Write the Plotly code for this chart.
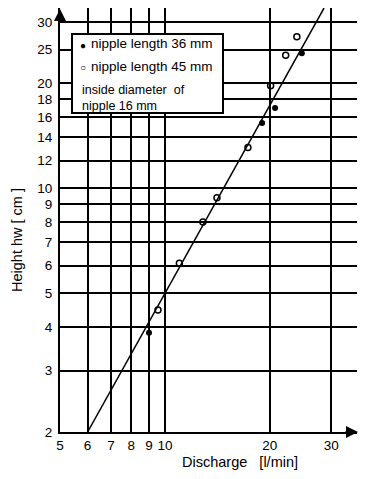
import numpy as np
import plotly.graph_objects as go

# Data
q36 = [9.0, 19.0, 20.7, 24.7]
h36 = [3.85, 15.4, 17.0, 24.4]
q45 = [9.55, 11.0, 12.85, 14.1, 17.3, 20.1, 22.2, 23.9]
h45 = [4.48, 6.1, 8.0, 9.4, 13.1, 19.7, 24.1, 27.2]
fit_q = [6.0, 28.6]
fit_h = [2.0, 32.9]
x_ticks = [5, 6, 7, 8, 9, 10, 20, 30]
y_ticks = [2, 3, 4, 5, 6, 7, 8, 9, 10, 12, 14, 16, 18, 20, 25, 30]

FONT = "Liberation Sans, Arial, Helvetica, sans-serif"

# page offset from default body margin
OFF = 8
W, H = 367 - OFF, 479 - OFF
L, T = 60 - OFF, 8 - OFF
pw, ph = 297, 424
R = W - L - pw
B = H - T - ph
dec = 348.6
x0 = np.log10(5)
y0 = np.log10(2)

fig = go.Figure()
fig.add_trace(go.Scatter(x=fit_q, y=fit_h, mode="lines",
                         line=dict(color="black", width=1.5), showlegend=False))
fig.add_trace(go.Scatter(x=q36, y=h36, mode="markers", name="nipple length 36 mm",
                         marker=dict(symbol="circle", size=6, color="black"),
                         showlegend=False, cliponaxis=False))
fig.add_trace(go.Scatter(x=q45, y=h45, mode="markers", name="nipple length 45 mm",
                         marker=dict(symbol="circle-open", size=6, color="black",
                                     line=dict(width=1.5)),
                         showlegend=False, cliponaxis=False))

fig.update_layout(
    width=W, height=H,
    margin=dict(l=L, r=R, t=T, b=B, pad=0),
    paper_bgcolor="white", plot_bgcolor="white",
    font=dict(family=FONT, color="black", size=13.5),
    xaxis=dict(type="log", range=[x0, x0 + pw / dec],
               tickvals=x_ticks, ticktext=[str(v) for v in x_ticks],
               showgrid=True, gridcolor="black", gridwidth=1.5,
               showline=True, linecolor="black", linewidth=2,
               zeroline=False, ticks="", tickfont=dict(size=13.5)),
    yaxis=dict(type="log", range=[y0, y0 + ph / dec],
               tickvals=y_ticks, ticktext=[str(v) for v in y_ticks],
               showgrid=True, gridcolor="black", gridwidth=1.5,
               showline=True, linecolor="black", linewidth=2,
               zeroline=False, ticks="", tickfont=dict(size=13.5),
               ticklabelstandoff=3),
    showlegend=False,
)

# page pixel -> paper coords
def px(xp):
    return (xp - OFF - L) / pw

def py(yp):
    return (T + ph - (yp - OFF)) / ph

# axis arrows
fig.add_annotation(xref="paper", yref="paper", x=0, y=py(9), ax=0, ay=12,
                   text="", showarrow=True, arrowhead=2, arrowsize=1.2,
                   arrowwidth=2, arrowcolor="black")
fig.add_annotation(xref="paper", yref="paper", x=px(358), y=0, ax=-14, ay=0,
                   text="", showarrow=True, arrowhead=2, arrowsize=1.2,
                   arrowwidth=2, arrowcolor="black")

# legend box
fig.add_shape(type="rect", xref="paper", yref="paper",
              x0=px(72), x1=px(223), y0=py(113), y1=py(34),
              line=dict(color="black", width=2), fillcolor="white", layer="above")
fig.add_annotation(xref="paper", yref="paper", x=px(83), y=py(45),
                   text="●", showarrow=False, xanchor="center", yanchor="middle",
                   font=dict(size=10))
fig.add_annotation(xref="paper", yref="paper", x=px(83), y=py(67),
                   text="○", showarrow=False, xanchor="center", yanchor="middle",
                   font=dict(size=10))
fig.add_annotation(xref="paper", yref="paper", x=px(89), y=py(44),
                   text="nipple length 36 mm", showarrow=False, xanchor="left",
                   yanchor="middle", font=dict(size=13.5))
fig.add_annotation(xref="paper", yref="paper", x=px(89), y=py(66),
                   text="nipple length 45 mm", showarrow=False, xanchor="left",
                   yanchor="middle", font=dict(size=13.5))
fig.add_annotation(xref="paper", yref="paper", x=px(80), y=py(98.5),
                   text="inside diameter  of<br>nipple 16 mm", showarrow=False,
                   xanchor="left", yanchor="middle", align="left",
                   font=dict(size=12.5))

# axis titles
fig.add_annotation(xref="paper", yref="paper", x=px(240), y=py(462),
                   text="Discharge   [l/min]", showarrow=False,
                   xanchor="center", yanchor="middle", font=dict(size=14.5))
fig.add_annotation(xref="paper", yref="paper", x=px(17), y=py(240),
                   text="Height hw [ cm ]", showarrow=False, textangle=-90,
                   xanchor="center", yanchor="middle", font=dict(size=14.5))

fig.write_html("out.html")
